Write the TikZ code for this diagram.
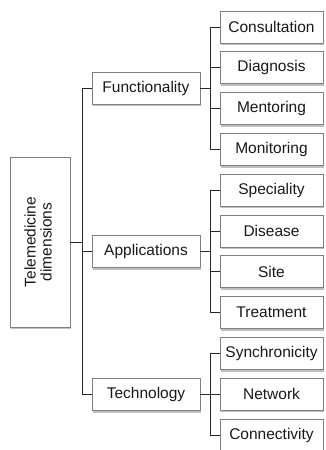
\documentclass[tikz,border=0pt]{standalone}
\usepackage{fontspec}
\setmainfont{Liberation Sans}
\usetikzlibrary{positioning, calc, shadows}

\tikzset{
    box/.style={draw=black!50, line width=0.9pt, fill=white, text=black!90,
        font=\fontsize{15.5}{18}\selectfont, inner sep=0pt,
        drop shadow={shadow xshift=1.2pt, shadow yshift=-2.2pt, opacity=0.5}},
    dimbox/.style={box, minimum width=108pt, minimum height=32pt},
    leafbox/.style={box, minimum width=103pt, minimum height=32pt},
    branch/.style={draw=black!85, line width=0.8pt}
}

\begin{document}
\begin{tikzpicture}[x=1pt, y=-1pt]
        \useasboundingbox (0,0) rectangle (325,450);
        %radice
        \node[box, minimum width=60pt, minimum height=170pt] (root) at (40,242)
            {\rotatebox{90}{\begin{tabular}{@{}c@{}}Telemedicine\\[-2pt]dimensions\end{tabular}}};
        %dimensioni
        \node[dimbox] (func) at (146,88.25) {Functionality};
        \node[dimbox] (appl) at (146,251.75) {Applications};
        \node[dimbox] (tech) at (146,394.5) {Technology};
        %foglie
        \foreach \name/\txt [count=\i from 0] in {cons/Consultation, diag/Diagnosis, ment/Mentoring, moni/Monitoring,
            spec/Speciality, dise/Disease, site/Site, trea/Treatment,
            sync/Synchronicity, netw/Network, conn/Connectivity}
            \node[leafbox] (\name) at (271.5,27+40.8*\i) {\txt};
        %collegamenti radice
        \foreach \dim in {func, appl, tech}
            \draw[branch] (root.east) -- ++(12,0) |- (\dim.west);
        %collegamenti foglie
        \foreach \dim/\leaf in {func/cons, func/diag, func/ment, func/moni,
            appl/spec, appl/dise, appl/site, appl/trea,
            tech/sync, tech/netw, tech/conn}
            \draw[branch] (\dim.east) -- ++(10,0) |- (\leaf.west);
    \end{tikzpicture}
\end{document}
